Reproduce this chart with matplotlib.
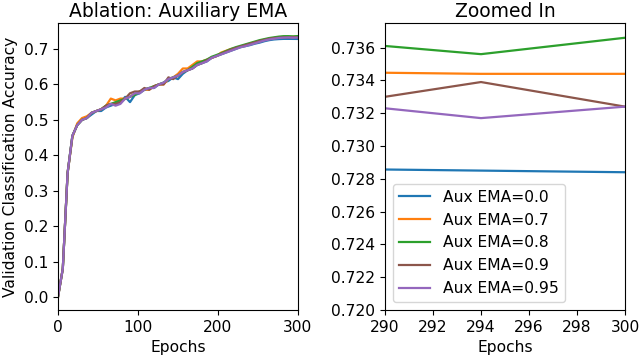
import matplotlib
matplotlib.use("Agg")
import matplotlib.pyplot as plt

# evaluation epochs (every 6 epochs)
epochs = list(range(0, 301, 6))

labels = ["Aux EMA=0.0", "Aux EMA=0.7", "Aux EMA=0.8", "Aux EMA=0.9", "Aux EMA=0.95"]
colors = ["C0", "C1", "C2", "C5", "C4"]

acc_00 = [0.0, 0.08, 0.35, 0.455, 0.485, 0.50, 0.505, 0.515, 0.525, 0.525, 0.535, 0.54,
          0.545, 0.55, 0.565, 0.55, 0.57, 0.575, 0.585, 0.59, 0.59, 0.60, 0.605, 0.61,
          0.62, 0.615, 0.63, 0.64, 0.645, 0.655, 0.66, 0.665, 0.675, 0.68, 0.685, 0.69,
          0.695, 0.70, 0.705, 0.708, 0.711, 0.715, 0.718, 0.722, 0.725, 0.727, 0.728,
          0.7286, 0.7286, 0.7285, 0.7284]
acc_07 = [0.0, 0.08, 0.35, 0.45, 0.49, 0.505, 0.51, 0.52, 0.525, 0.53, 0.54, 0.56,
          0.555, 0.56, 0.56, 0.565, 0.575, 0.58, 0.585, 0.585, 0.595, 0.60, 0.60, 0.615,
          0.62, 0.63, 0.645, 0.645, 0.655, 0.665, 0.665, 0.67, 0.675, 0.68, 0.69, 0.695,
          0.70, 0.702, 0.706, 0.71, 0.714, 0.718, 0.722, 0.726, 0.729, 0.731, 0.733,
          0.7344, 0.7345, 0.7344, 0.7344]
acc_08 = [0.0, 0.08, 0.35, 0.455, 0.485, 0.50, 0.505, 0.52, 0.525, 0.53, 0.54, 0.545,
          0.55, 0.555, 0.56, 0.565, 0.57, 0.58, 0.585, 0.59, 0.595, 0.60, 0.605, 0.615,
          0.62, 0.625, 0.635, 0.64, 0.65, 0.66, 0.665, 0.67, 0.678, 0.683, 0.688, 0.694,
          0.70, 0.705, 0.709, 0.713, 0.717, 0.721, 0.725, 0.728, 0.731, 0.733, 0.735,
          0.7362, 0.73635, 0.7356, 0.7366]
acc_09 = [0.0, 0.08, 0.35, 0.455, 0.485, 0.50, 0.505, 0.52, 0.525, 0.53, 0.54, 0.545,
          0.545, 0.55, 0.56, 0.575, 0.58, 0.58, 0.59, 0.585, 0.595, 0.60, 0.60, 0.62,
          0.615, 0.625, 0.635, 0.64, 0.645, 0.655, 0.66, 0.668, 0.675, 0.68, 0.686, 0.692,
          0.698, 0.703, 0.707, 0.711, 0.715, 0.719, 0.723, 0.726, 0.729, 0.731, 0.732,
          0.7328, 0.73255, 0.7339, 0.7324]
acc_095 = [0.0, 0.08, 0.35, 0.455, 0.485, 0.50, 0.505, 0.52, 0.525, 0.53, 0.535, 0.545,
           0.54, 0.545, 0.56, 0.565, 0.575, 0.575, 0.585, 0.59, 0.59, 0.60, 0.605, 0.615,
           0.62, 0.625, 0.635, 0.64, 0.645, 0.655, 0.66, 0.665, 0.675, 0.68, 0.685, 0.69,
           0.695, 0.70, 0.705, 0.708, 0.712, 0.716, 0.72, 0.724, 0.727, 0.729, 0.731,
           0.732, 0.7326, 0.7317, 0.7324]
series = [acc_00, acc_07, acc_08, acc_09, acc_095]

plt.rcParams["font.size"] = 11.2
plt.rcParams["axes.titlesize"] = 13.5

fig = plt.figure(figsize=(6.4, 3.56), dpi=100)
ax1 = fig.add_axes([58 / 640, 1 - 310 / 356, 240 / 640, 287 / 356])
ax2 = fig.add_axes([385 / 640, 1 - 310 / 356, 240 / 640, 287 / 356])

for vals, lab, col in zip(series, labels, colors):
    ax1.plot(epochs, vals, color=col, label=lab, linewidth=1.6)
    ax2.plot(epochs, vals, color=col, label=lab, linewidth=1.6)

ax1.set_xlim(0, 300)
ax1.set_title("Ablation: Auxiliary EMA", pad=4)
ax1.set_xlabel("Epochs", labelpad=4)
ax1.set_ylabel("Validation Classification Accuracy", labelpad=4)

ax2.set_xlim(290, 300)
ax2.set_ylim(0.72, 0.7375)
ax2.set_xticks(range(290, 301, 2))
ax2.set_title("Zoomed In", pad=4)
ax2.set_xlabel("Epochs", labelpad=4)
ax2.legend(loc="lower left")

fig.savefig("out.png", dpi=100)
